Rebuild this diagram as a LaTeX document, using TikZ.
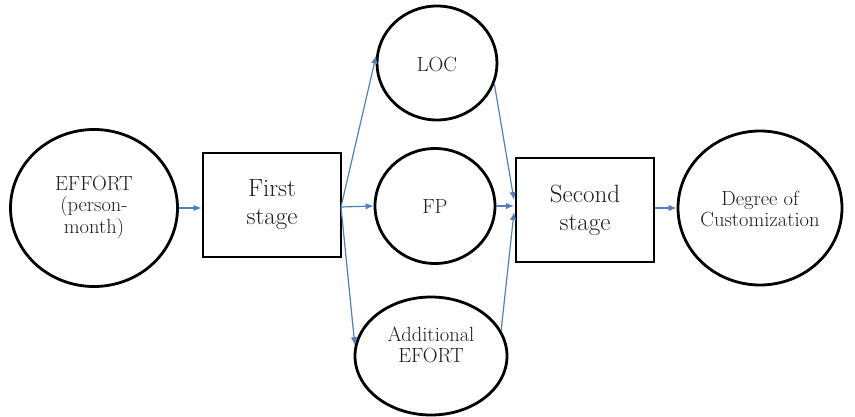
\documentclass[tikz,border=0pt]{standalone}
\usetikzlibrary{arrows.meta,shapes.geometric}
\definecolor{arrowblue}{HTML}{4F81BD}
\definecolor{txt}{HTML}{1E1E1E}
\tikzset{
  ell/.style={ellipse, draw=black, line width=2.8pt, inner sep=0pt},
  stagebox/.style={rectangle, draw=black, line width=2.8pt, inner sep=0pt},
  smalltext/.style={text=txt, font=\fontsize{20.5}{21.5}\selectfont, align=center},
  bigtext/.style={text=txt, font=\fontsize{25}{28}\selectfont, align=center},
  conn/.style={draw=arrowblue, line width=1.2pt, -{Latex[length=8pt,width=6.5pt]}}
}
\begin{document}
\begin{tikzpicture}[x=1pt,y=-1pt]
\useasboundingbox (0,0) rectangle (855,417);
\node[ell, minimum width=167pt, minimum height=157pt] (effort) at (94,208) {};
\node[smalltext] at (94,207) {EFFORT\\(person-\\month)};
\node[stagebox, minimum width=138pt, minimum height=104pt] (first) at (272,205) {};
\node[bigtext] at (272,205) {First\\stage};
\node[ell, minimum width=120pt, minimum height=114pt] (loc) at (437,63) {};
\node[smalltext] at (437,65) {LOC};
\node[ell, minimum width=120pt, minimum height=115pt] (fp) at (435,206) {};
\node[smalltext] at (435,206) {FP};
\node[ell, minimum width=152pt, minimum height=118pt] (add) at (431,356) {};
\node[smalltext] at (431,345) {Additional\\EFORT};
\node[stagebox, minimum width=138pt, minimum height=104pt] (second) at (585,210) {};
\node[bigtext] at (585,210) {Second\\stage};
\node[ell, minimum width=164pt, minimum height=154pt] (deg) at (760,208) {};
\node[smalltext] at (760,209) {Degree of\\Customization};
\coordinate (fo) at (341,207);
\coordinate (s1) at (514,200);
\coordinate (s2) at (514,206);
\coordinate (s3) at (514,212);
\draw[conn] (effort.east) -- (first.west |- effort.east);
\draw[conn] (fo) -- (loc.173);
\draw[conn] (fo) -- (fp.west);
\draw[conn] (fo) -- (add.172);
\draw[conn] (loc.-20) -- (s1);
\draw[conn] (fp.east) -- (s2);
\draw[conn] (add.20) -- (s3);
\draw[conn] (second.east |- deg.west) -- (deg.west);
\end{tikzpicture}
\end{document}
